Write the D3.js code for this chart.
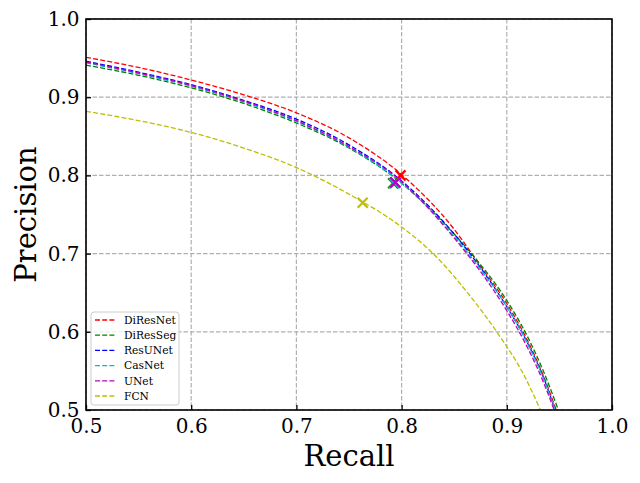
<!DOCTYPE html>
<html><head><meta charset="utf-8">
<script src="https://cdn.jsdelivr.net/npm/d3@7"></script>
<style>body{margin:0;background:#fff}svg{display:block}</style>
</head><body>
<svg id="c" width="640" height="483"></svg>
<script>
const seriesNames = ["DiResNet","DiResSeg","ResUNet","CasNet","UNet","FCN"];
const seriesColors = ["#ff0000","#008000","#0000ff","#00bfbf","#bf00bf","#bfbf00"];
const recallDiResNet = [0.5,0.55,0.6,0.65,0.7,0.75,0.8,0.85,0.875,0.9,0.92,0.935,0.947];
const precDiResNet   = [0.951,0.938,0.922,0.903,0.880,0.848,0.801,0.731,0.684,0.636,0.588,0.543,0.5];
const recallDiResSeg = [0.5,0.55,0.6,0.65,0.7,0.75,0.8,0.85,0.875,0.9,0.92,0.935,0.949];
const precDiResSeg   = [0.941,0.928,0.912,0.892,0.867,0.835,0.790,0.725,0.686,0.640,0.593,0.549,0.5];
const recallResUNet  = [0.5,0.55,0.6,0.65,0.7,0.75,0.8,0.85,0.875,0.9,0.92,0.935,0.946];
const precResUNet    = [0.946,0.932,0.916,0.896,0.872,0.839,0.793,0.725,0.682,0.632,0.585,0.541,0.5];
const recallCasNet   = [0.5,0.55,0.6,0.65,0.7,0.75,0.8,0.85,0.875,0.9,0.92,0.935,0.946];
const precCasNet     = [0.944,0.930,0.914,0.894,0.869,0.836,0.790,0.722,0.680,0.632,0.584,0.540,0.5];
const recallUNet     = [0.5,0.55,0.6,0.65,0.7,0.75,0.8,0.85,0.875,0.9,0.92,0.935,0.945];
const precUNet       = [0.945,0.931,0.915,0.895,0.870,0.837,0.792,0.720,0.677,0.627,0.579,0.535,0.5];
const recallFCN      = [0.5,0.55,0.6,0.65,0.7,0.75,0.8,0.83,0.862,0.894,0.915,0.932];
const precFCN        = [0.882,0.870,0.855,0.835,0.810,0.776,0.734,0.700,0.651,0.593,0.548,0.5];
const markerRecall    = [0.799,0.792,0.794,0.793,0.794,0.763];
const markerPrecision = [0.800,0.790,0.791,0.790,0.791,0.765];
const xTicks = [0.5,0.6,0.7,0.8,0.9,1.0];
const yTicks = [0.5,0.6,0.7,0.8,0.9,1.0];

const recalls = [recallDiResNet,recallDiResSeg,recallResUNet,recallCasNet,recallUNet,recallFCN];
const precs = [precDiResNet,precDiResSeg,precResUNet,precCasNet,precUNet,precFCN];

const L=86,R=612,T=19,B=410;
const svg=d3.select("#c");
const x=d3.scaleLinear().domain([0.5,1.0]).range([L,R]);
const y=d3.scaleLinear().domain([0.5,1.0]).range([B,T]);
const font="DejaVu Serif";

// grid
const g=svg.append("g");
g.selectAll(".gx").data(xTicks).enter().append("line")
 .attr("x1",d=>x(d)).attr("x2",d=>x(d)).attr("y1",T).attr("y2",B)
 .attr("stroke","#b0b0b0").attr("stroke-width",1.2).attr("stroke-dasharray","4.5,2");
g.selectAll(".gy").data(yTicks).enter().append("line")
 .attr("y1",d=>y(d)).attr("y2",d=>y(d)).attr("x1",L).attr("x2",R)
 .attr("stroke","#b0b0b0").attr("stroke-width",1.2).attr("stroke-dasharray","4.5,2");

svg.append("defs").append("clipPath").attr("id","clip").append("rect")
 .attr("x",L).attr("y",T).attr("width",R-L).attr("height",B-T);

const line=d3.line().x(d=>x(d[0])).y(d=>y(d[1])).curve(d3.curveMonotoneX);
const plot=svg.append("g").attr("clip-path","url(#clip)");
seriesNames.forEach((n,i)=>{
  const pts=recalls[i].map((r,k)=>[r,precs[i][k]]);
  plot.append("path").attr("d",line(pts)).attr("fill","none")
   .attr("stroke",seriesColors[i]).attr("stroke-width",1.3).attr("stroke-dasharray","5,2.2");
});
// markers
seriesNames.forEach((n,i)=>{
  const cx=x(markerRecall[i]), cy=y(markerPrecision[i]), s=5;
  const m=plot.append("g").attr("stroke",seriesColors[i]).attr("stroke-width",2.2);
  m.append("line").attr("x1",cx-s).attr("y1",cy-s).attr("x2",cx+s).attr("y2",cy+s);
  m.append("line").attr("x1",cx-s).attr("y1",cy+s).attr("x2",cx+s).attr("y2",cy-s);
});

// axes
const xa=svg.append("g").attr("transform",`translate(0,${B})`)
 .call(d3.axisBottom(x).tickValues(xTicks).tickFormat(d3.format(".1f")).tickSizeInner(-5).tickSizeOuter(0).tickPadding(9));
const ya=svg.append("g").attr("transform",`translate(${L},0)`)
 .call(d3.axisLeft(y).tickValues(yTicks).tickFormat(d3.format(".1f")).tickSizeInner(-5).tickSizeOuter(0).tickPadding(6.5));
[xa,ya].forEach(a=>{
  a.select(".domain").remove();
  a.selectAll("text").attr("font-family",font).attr("font-size",20).attr("fill","#000");
  a.selectAll(".tick line").attr("stroke","#000").attr("stroke-width",1.3);
});
// frame
svg.append("rect").attr("x",L).attr("y",T).attr("width",R-L).attr("height",B-T)
 .attr("fill","none").attr("stroke","#000").attr("stroke-width",1.6);

// labels
svg.append("text").attr("x",(L+R)/2).attr("y",466).attr("text-anchor","middle")
 .attr("font-family",font).attr("font-size",29).text("Recall");
svg.append("text").attr("transform",`translate(36,${(T+B)/2}) rotate(-90)`).attr("text-anchor","middle")
 .attr("font-family",font).attr("font-size",29).text("Precision");

// legend
const lg=svg.append("g");
lg.append("rect").attr("x",91).attr("y",312).attr("width",88).attr("height",93).attr("rx",3)
 .attr("fill","#fff").attr("fill-opacity",0.8).attr("stroke","#cccccc").attr("stroke-width",1);
seriesNames.forEach((n,i)=>{
  const yy=320+i*15.2;
  lg.append("line").attr("x1",95).attr("x2",116).attr("y1",yy).attr("y2",yy)
   .attr("stroke",seriesColors[i]).attr("stroke-width",1.3).attr("stroke-dasharray","5,2.2");
  lg.append("text").attr("x",124).attr("y",yy).attr("dy","0.35em")
   .attr("font-family",font).attr("font-size",10.7).text(n);
});
</script>
</body></html>
